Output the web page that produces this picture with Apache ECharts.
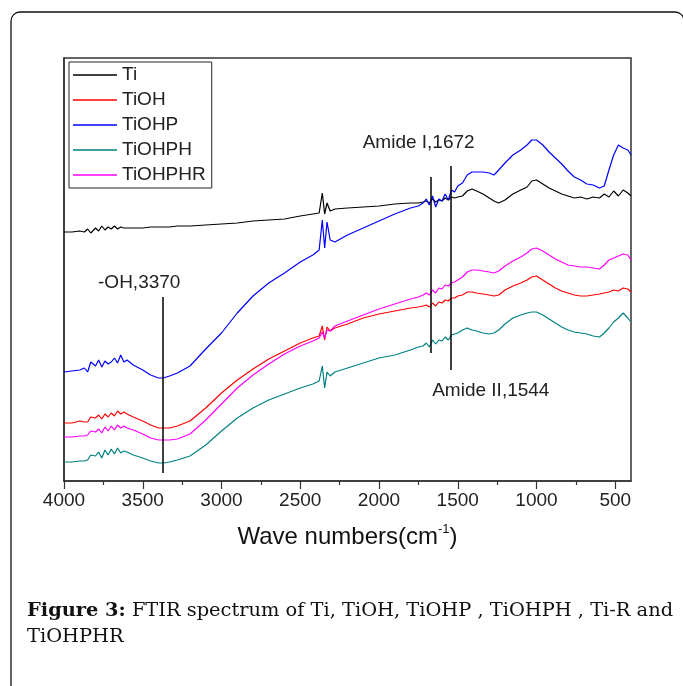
<!DOCTYPE html>
<html>
<head>
<meta charset="utf-8">
<script src="https://cdn.jsdelivr.net/npm/echarts@6/dist/echarts.min.js"></script>
<style>
  html, body { margin: 0; padding: 0; background: #fff; }
  #chart { width: 683px; height: 686px; }
</style>
</head>
<body>
<div id="chart"></div>
<script>
// wavenumber grid (cm-1), shared by all spectra
const waveNumbers = [
  4000, 3950, 3900, 3870, 3850, 3830, 3800, 3780, 3760, 3740, 3720, 3700, 3680, 3660, 3640, 3620,
  3600, 3560, 3500, 3450, 3400, 3370, 3330, 3280, 3200, 3100, 3000, 2900, 2800, 2700, 2600, 2500,
  2420, 2380, 2360, 2345, 2330, 2310, 2280, 2200, 2100, 2000, 1900, 1800, 1750, 1720, 1700, 1680,
  1660, 1640, 1620, 1600, 1580, 1560, 1540, 1520, 1500, 1470, 1440, 1410, 1380, 1340, 1300, 1270,
  1240, 1200, 1150, 1100, 1060, 1030, 1000, 960, 920, 880, 840, 800, 760, 720, 680, 640,
  600, 570, 540, 510, 480, 450, 420, 400
];

// transmittance (a.u., curves offset as in the figure)
const ti = [
  49.8, 49.8, 50.0, 49.8, 50.4, 49.6, 50.6, 50.0, 51.0, 50.2, 50.8, 50.4, 51.0, 50.4, 50.8, 50.6,
  50.6, 50.6, 50.6, 50.8, 50.8, 50.8, 50.8, 51.0, 51.0, 51.2, 51.4, 51.6, 52.0, 52.2, 52.4, 53.0,
  53.4, 53.6, 57.6, 53.4, 55.6, 54.0, 54.4, 54.6, 54.8, 55.0, 55.4, 55.6, 55.6, 55.8, 56.0, 55.6,
  56.4, 55.8, 56.2, 56.0, 56.6, 56.2, 56.8, 56.6, 56.8, 57.0, 58.0, 58.4, 58.0, 57.4, 56.6, 56.0,
  55.6, 56.2, 57.4, 58.2, 58.8, 60.0, 60.2, 59.4, 58.6, 58.0, 57.4, 57.0, 56.6, 56.8, 56.4, 56.8,
  56.6, 57.4, 56.8, 58.0, 57.0, 58.2, 57.6, 57.0
];
const tiOH = [
  11.6, 11.6, 12.0, 11.8, 11.8, 12.8, 12.6, 13.2, 12.4, 13.4, 12.8, 13.6, 13.0, 14.0, 13.4, 13.8,
  13.4, 12.8, 12.0, 11.2, 10.6, 10.6, 10.6, 11.0, 12.0, 14.6, 17.6, 20.2, 22.4, 24.4, 26.0, 27.6,
  28.6, 29.0, 31.0, 28.2, 30.8, 30.0, 30.6, 31.4, 32.6, 33.4, 34.0, 34.6, 34.8, 35.0, 35.2, 34.8,
  35.6, 35.0, 35.8, 35.6, 36.2, 36.0, 36.6, 36.6, 37.0, 37.2, 37.8, 37.8, 37.6, 37.4, 37.2, 37.0,
  37.2, 38.2, 39.0, 39.6, 40.2, 40.8, 41.0, 40.2, 39.4, 38.6, 38.0, 37.6, 37.2, 37.0, 37.0, 37.2,
  37.4, 37.6, 37.8, 38.2, 38.0, 38.6, 38.4, 37.8
];
const tiOHP = [
  21.8, 22.0, 22.2, 22.6, 21.8, 23.8, 23.0, 24.2, 22.8, 24.0, 23.4, 23.8, 24.6, 23.6, 25.2, 23.8,
  24.2, 23.2, 22.2, 21.2, 20.6, 20.6, 21.0, 21.6, 23.0, 26.4, 29.6, 33.6, 37.0, 39.6, 41.6, 43.8,
  45.2, 46.2, 52.2, 46.6, 51.8, 48.2, 47.8, 49.2, 50.6, 52.0, 53.4, 54.6, 55.0, 55.6, 56.4, 55.2,
  57.0, 54.8, 56.4, 56.0, 57.4, 56.2, 58.2, 57.8, 59.0, 59.6, 61.2, 61.8, 61.8, 61.8, 61.6, 61.2,
  62.2, 63.6, 65.2, 66.2, 67.2, 68.2, 68.2, 67.2, 65.8, 64.6, 63.4, 62.0, 60.8, 60.2, 59.4, 59.2,
  58.6, 59.0, 62.2, 65.2, 67.2, 66.6, 66.2, 65.2
];
const tiOHPH = [
  3.8, 3.8, 4.0, 4.0, 4.2, 5.2, 5.0, 5.8, 4.6, 6.2, 5.2, 6.4, 5.4, 6.6, 5.6, 6.0,
  5.8, 5.2, 4.6, 4.0, 3.6, 3.6, 3.8, 4.2, 5.0, 7.2, 10.0, 12.6, 14.6, 16.2, 17.4, 18.6,
  19.4, 20.0, 23.0, 18.6, 21.8, 21.0, 21.8, 22.6, 23.6, 24.6, 25.2, 26.2, 26.8, 27.0, 27.6, 26.8,
  28.2, 27.4, 28.2, 28.0, 28.8, 28.2, 29.2, 29.4, 29.6, 30.2, 30.6, 30.2, 30.0, 29.6, 29.4, 29.6,
  30.2, 31.4, 32.6, 33.2, 33.6, 33.8, 33.8, 33.2, 32.4, 31.6, 30.8, 30.2, 29.8, 29.6, 29.4, 29.0,
  28.8, 29.6, 30.6, 31.8, 32.6, 33.6, 32.6, 31.8
];
const tiOHPHR = [
  8.8, 8.8, 9.0, 9.0, 9.2, 10.0, 9.8, 10.4, 9.6, 10.8, 10.0, 11.0, 10.2, 11.2, 10.6, 11.0,
  10.6, 10.2, 9.4, 8.6, 8.2, 8.2, 8.2, 8.4, 9.4, 12.2, 15.4, 18.6, 21.2, 23.4, 25.4, 27.0,
  28.0, 28.6, 29.8, 28.6, 30.2, 30.0, 31.0, 32.0, 33.2, 34.4, 35.4, 36.4, 36.8, 37.2, 37.6, 37.2,
  38.2, 37.6, 38.6, 38.4, 39.2, 39.0, 39.6, 39.8, 40.2, 40.8, 41.8, 42.2, 42.2, 42.0, 41.8, 41.6,
  42.0, 43.0, 44.0, 44.8, 45.6, 46.4, 46.6, 46.0, 45.2, 44.4, 43.8, 43.2, 43.0, 42.8, 42.8, 42.6,
  42.4, 43.2, 44.2, 44.6, 45.0, 45.4, 45.2, 44.2
];

const seriesNames = ['Ti', 'TiOH', 'TiOHP', 'TiOHPH', 'TiOHPHR'];
const seriesValues = [ti, tiOH, tiOHP, tiOHPH, tiOHPHR];
const seriesColors = ['#000000', '#ff0000', '#0000ff', '#008080', '#ff00ff'];

const majorTicks = [4000, 3500, 3000, 2500, 2000, 1500, 1000, 500];
const minorTicks = [3750, 3250, 2750, 2250, 1750, 1250, 750];

// band markers: [wavenumber, bottom, top, label]
const bands = [
  [3370, 1.6, 36.8, '-OH,3370'],
  [1672, 25.6, 60.8, 'Amide I,1672'],
  [1544, 22.2, 63.0, 'Amide II,1544']
];

const SANS = '"Liberation Sans", Arial, sans-serif';
const SERIF = '"DejaVu Serif", "Liberation Serif", serif';
const INK = '#222';

const chart = echarts.init(document.getElementById('chart'), null, { renderer: 'canvas' });

function toPairs(values) {
  return waveNumbers.map((w, i) => [w, values[i]]);
}

const series = seriesNames.map((name, i) => ({
  name,
  type: 'line',
  data: toPairs(seriesValues[i]),
  symbol: 'none',
  color: seriesColors[i],
  lineStyle: { width: 1.2, color: seriesColors[i] },
  z: 3
}));

// vertical marker lines and their labels
series[0].markLine = {
  silent: true,
  symbol: ['none', 'none'],
  lineStyle: { color: '#000', width: 1.5, type: 'solid' },
  label: { show: false },
  data: bands.map(b => [{ coord: [b[0], b[1]] }, { coord: [b[0], b[2]] }])
};
const labelPlace = [
  { at: 2, pos: 'top', offset: [-24, 0] },
  { at: 2, pos: 'top', offset: [-12, -20] },
  { at: 1, pos: 'bottom', offset: [40, 6] }
];
series[0].markPoint = {
  silent: true,
  symbolSize: 0,
  data: bands.map((b, i) => ({
    coord: [b[0], b[labelPlace[i].at]],
    label: {
      show: true,
      position: labelPlace[i].pos,
      distance: 5,
      offset: labelPlace[i].offset,
      formatter: b[3],
      color: INK,
      fontSize: 19,
      fontFamily: SANS
    }
  }))
};

const xBase = {
  type: 'value',
  min: 400,
  max: 4000,
  inverse: true,
  position: 'bottom',
  splitLine: { show: false }
};

chart.setOption({
  animation: false,
  backgroundColor: '#fff',
  grid: {
    left: 64, right: 52, top: 58, bottom: 205,
    show: true, borderColor: '#333', borderWidth: 1.5
  },
  legend: {
    orient: 'vertical',
    left: 69,
    top: 62,
    icon: 'rect',
    itemWidth: 44,
    itemHeight: 1.5,
    itemGap: 5,
    padding: [3, 6, 3, 4],
    borderColor: '#222',
    borderWidth: 1,
    backgroundColor: '#fff',
    textStyle: { fontSize: 19, fontFamily: SANS, color: INK, lineHeight: 20 },
    data: seriesNames
  },
  xAxis: [
    Object.assign({}, xBase, {
      axisLine: { show: true, lineStyle: { color: '#333', width: 1.5 } },
      axisTick: { show: true, customValues: majorTicks, length: 8, lineStyle: { color: '#333', width: 1.2 } },
      axisLabel: {
        customValues: majorTicks,
        formatter: v => String(v),
        fontSize: 19, fontFamily: SANS, color: INK, margin: 10
      },
      name: '{a|Wave numbers(cm}{s|-1}{a|)}',
      nameLocation: 'middle',
      nameGap: 42,
      nameTextStyle: {
        rich: {
          a: { fontSize: 24, fontFamily: SANS, color: '#111', lineHeight: 28 },
          s: { fontSize: 13, fontFamily: SANS, color: '#111', verticalAlign: 'top', lineHeight: 28 }
        }
      }
    }),
    Object.assign({}, xBase, {
      axisLine: { show: false },
      axisTick: { show: true, customValues: minorTicks, length: 4, lineStyle: { color: '#333', width: 1.2 } },
      axisLabel: { show: false }
    })
  ],
  yAxis: {
    type: 'value',
    min: 0,
    max: 84.6,
    axisLine: { show: true, lineStyle: { color: '#333', width: 1.5 } },
    axisTick: { show: false },
    axisLabel: { show: false },
    splitLine: { show: false }
  },
  series,
  graphic: [
    {
      type: 'rect',
      shape: { x: 11, y: 12, width: 673, height: 720, r: 9 },
      style: { fill: 'none', stroke: '#111', lineWidth: 1.3 },
      silent: true
    },
    {
      type: 'text',
      left: 27,
      top: 598,
      style: {
        text: '{b|Figure 3:} FTIR spectrum of Ti, TiOH, TiOHP , TiOHPH , Ti-R and\nTiOHPHR',
        font: '19.4px ' + SERIF,
        fill: '#111',
        lineHeight: 26,
        rich: {
          b: { fontWeight: 'bold', fontSize: 19.4, fontFamily: SERIF, fill: '#111' }
        }
      }
    }
  ]
});
</script>
</body>
</html>
